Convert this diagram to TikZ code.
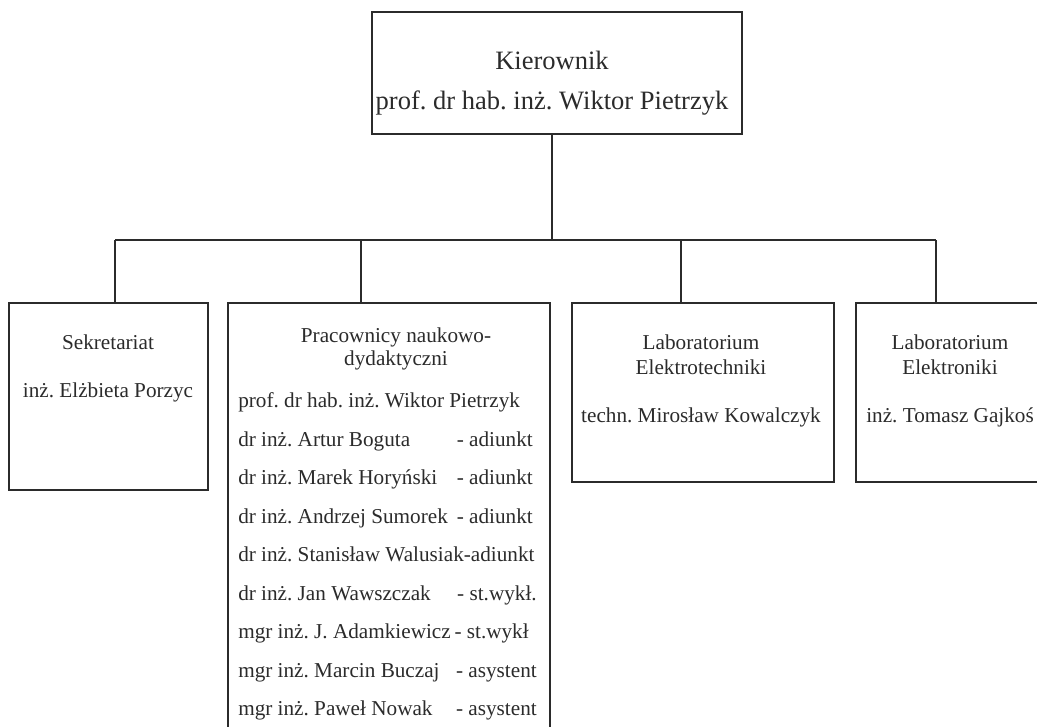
\documentclass[tikz,border=0pt]{standalone}
\usepackage{fontspec}
\setmainfont{Liberation Serif}
\frenchspacing
\usetikzlibrary{fit}
\definecolor{ink}{HTML}{2B2B2B}
\tikzset{
  box/.style={draw=ink, line width=1pt, inner sep=0pt},
  conn/.style={draw=ink, line width=1pt},
  txt/.style={text=ink, font=\fontsize{15.9}{19}\selectfont, inner sep=0pt, text height=0.7em, text depth=0.25em, yshift=-3.5pt},
  big/.style={txt, font=\fontsize{19.9}{24}\selectfont, yshift=-1pt},
  lft/.style={txt, anchor=west},
  rgt/.style={txt, anchor=east},
}
\begin{document}
\begin{tikzpicture}[x=0.75pt, y=-0.75pt]
\clip (0,0) rectangle (1037,726);
\fill[white] (0,0) rectangle (1037,726);
% boxes
\node[box, fit={(372,12) (742,134)}] (top) {};
\node[box, fit={(9,303) (208,490)}] (sek) {};
\node[box, fit={(228,303) (550,760)}] (prac) {};
\node[box, fit={(572,303) (834,482)}] (labet) {};
\node[box, fit={(856,303) (1044,482)}] (laben) {};
% connector points
\coordinate (trunk) at (552,240);
\coordinate (j1) at (115,240);
\coordinate (j2) at (361,240);
\coordinate (j3) at (681,240);
\coordinate (j4) at (936,240);
\draw[conn] (top.south -| trunk) -- (trunk);
\draw[conn] (j1) -- (j4);
\draw[conn] (j1) -- (j1 |- sek.north);
\draw[conn] (j2) -- (j2 |- prac.north);
\draw[conn] (j3) -- (j3 |- labet.north);
\draw[conn] (j4) -- (j4 |- laben.north);
% texts
\node[big] (t1) at (552,60) {Kierownik};
\node[big] (t2) at (552,100) {prof. dr hab. inż. Wiktor Pietrzyk};
\node[txt] (s1) at (108,342) {Sekretariat};
\node[txt] (s2) at (108,390) {inż. Elżbieta Porzyc};
\node[txt] (h1) at (396,335) {Pracownicy naukowo-};
\node[txt] (h2) at (396,358) {dydaktyczni};
\node[lft] (n1) at (238,400) {prof. dr hab. inż. Wiktor Pietrzyk};
\node[lft] (n2) at (238,438.5) {dr inż. Artur Boguta};
\node[rgt] (r2) at (533,438.5) {- adiunkt};
\node[lft] (n3) at (238,477) {dr inż. Marek Horyński};
\node[rgt] (r3) at (533,477) {- adiunkt};
\node[lft] (n4) at (238,515.5) {dr inż. Andrzej Sumorek};
\node[rgt] (r4) at (533,515.5) {- adiunkt};
\node[lft] (n5) at (238,554) {dr inż. Stanisław Walusiak-adiunkt};
\node[lft] (n6) at (238,592.5) {dr inż. Jan Wawszczak};
\node[rgt] (r6) at (537,592.5) {- st.wykł.};
\node[lft] (n7) at (238,631) {mgr inż. J. Adamkiewicz};
\node[rgt] (r7) at (529,631) {- st.wykł};
\node[lft] (n8) at (238,669.5) {mgr inż. Marcin Buczaj};
\node[rgt] (r8) at (537,669.5) {- asystent};
\node[lft] (n9) at (238,708) {mgr inż. Paweł Nowak};
\node[rgt] (r9) at (537,708) {- asystent};
\node[txt] (e1) at (701,342) {Laboratorium};
\node[txt] (e2) at (701,367) {Elektrotechniki};
\node[txt] (e3) at (701,415) {techn. Mirosław Kowalczyk};
\node[txt] (k1) at (950,342) {Laboratorium};
\node[txt] (k2) at (950,367) {Elektroniki};
\node[txt] (k3) at (950,415) {inż. Tomasz Gajkoś};
\end{tikzpicture}
\end{document}
